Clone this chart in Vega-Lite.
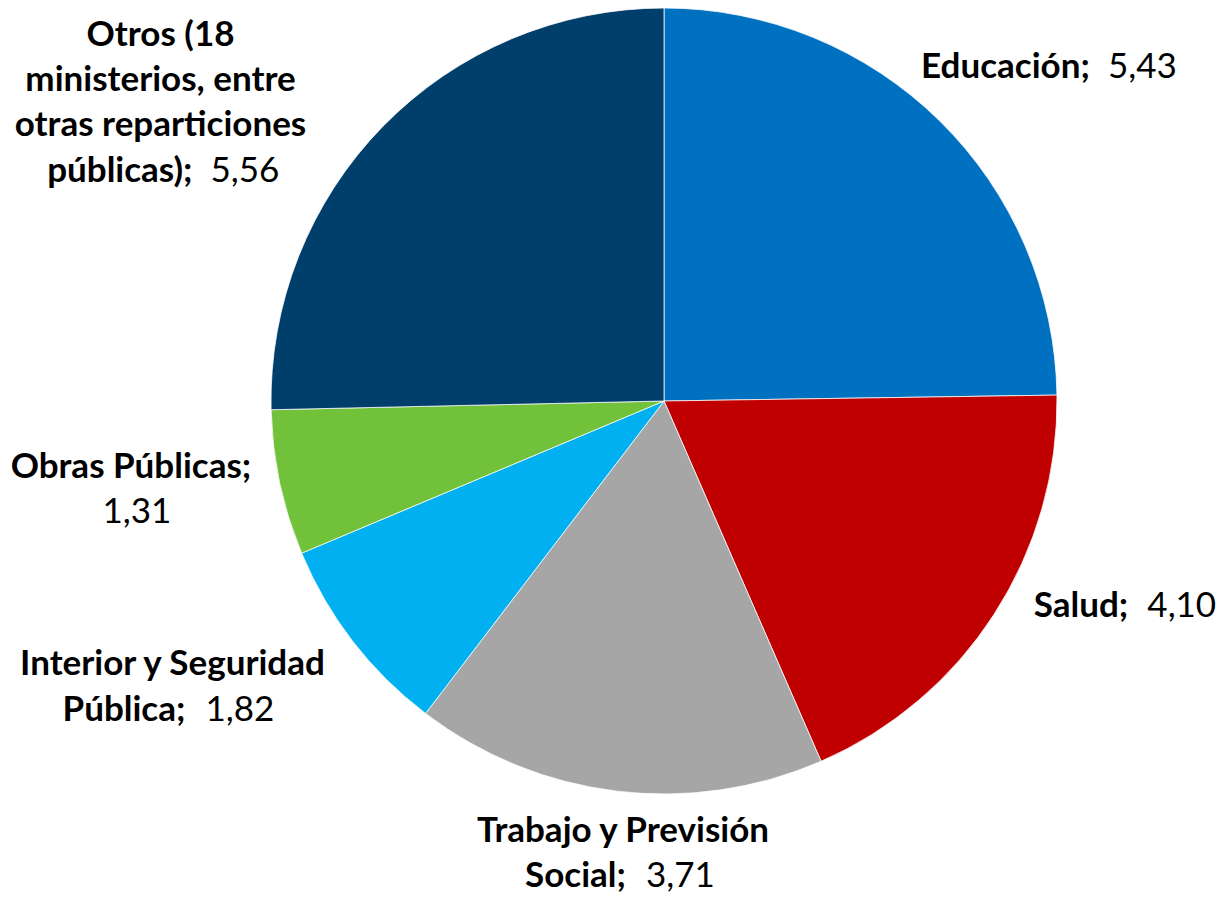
{
  "$schema": "https://vega.github.io/schema/vega-lite/v6.json",
  "autosize": {"type": "none"},
  "width": 786,
  "height": 786,
  "padding": {"left": 271, "top": 8, "right": 164, "bottom": 103},
  "background": "white",
  "config": {"view": {"stroke": null}, "text": {"font": "Lato", "fontSize": 35, "color": "#000000", "baseline": "alphabetic", "radius": 500, "lineHeight": 45}},
  "data": {"values": [
    {"cat": "Educación", "value": 5.43, "orden": 1, "t1": "", "tb": "Educación;"},
    {"cat": "Salud", "value": 4.10, "orden": 2, "t1": "", "tb": "Salud;"},
    {"cat": "Trabajo y Previsión Social", "value": 3.71, "orden": 3, "t1": "Trabajo y Previsión", "tb": "Social;"},
    {"cat": "Interior y Seguridad Pública", "value": 1.82, "orden": 4, "t1": "Interior y Seguridad", "tb": "Pública;"},
    {"cat": "Obras Públicas", "value": 1.31, "orden": 5, "t1": "Obras Públicas;", "tb": ""},
    {"cat": "Otros", "value": 5.56, "orden": 6, "t1": ["Otros (18", "ministerios, entre", "otras reparticiones"], "tb": "públicas);"}
  ]},
  "transform": [
    {"calculate": "replace(format(datum.value, '.2f'), '.', ',')", "as": "valtxt"}
  ],
  "encoding": {
    "theta": {"field": "value", "type": "quantitative", "stack": true},
    "order": {"field": "orden", "type": "quantitative"}
  },
  "layer": [
    {
      "mark": {"type": "arc", "stroke": "#ffffff", "strokeWidth": 0.75},
      "encoding": {
        "color": {
          "field": "cat", "type": "nominal", "legend": null,
          "scale": {
            "domain": ["Educación", "Salud", "Trabajo y Previsión Social", "Interior y Seguridad Pública", "Obras Públicas", "Otros"],
            "range": ["#0070C0", "#C00000", "#A6A6A6", "#00B0F0", "#71C23A", "#003E6B"]
          }
        }
      }
    },
    {"mark": {"type": "text", "fontWeight": "bold", "align": "right", "dx": 75, "dy": 33},
     "encoding": {"text": {"condition": {"test": "datum.cat === 'Educación'", "field": "tb"}, "value": ""}}},
    {"mark": {"type": "text", "align": "left", "dx": 93, "dy": 33},
     "encoding": {"text": {"condition": {"test": "datum.cat === 'Educación'", "field": "valtxt"}, "value": ""}}},
    {"mark": {"type": "text", "fontWeight": "bold", "align": "right", "dx": 44, "dy": -55},
     "encoding": {"text": {"condition": {"test": "datum.cat === 'Salud'", "field": "tb"}, "value": ""}}},
    {"mark": {"type": "text", "align": "left", "dx": 63, "dy": -55},
     "encoding": {"text": {"condition": {"test": "datum.cat === 'Salud'", "field": "valtxt"}, "value": ""}}},
    {"mark": {"type": "text", "fontWeight": "bold", "align": "center", "dx": 19, "dy": -55},
     "encoding": {"text": {"condition": {"test": "datum.cat === 'Trabajo y Previsión Social'", "field": "t1"}, "value": ""}}},
    {"mark": {"type": "text", "fontWeight": "bold", "align": "right", "dx": 22, "dy": -10},
     "encoding": {"text": {"condition": {"test": "datum.cat === 'Trabajo y Previsión Social'", "field": "tb"}, "value": ""}}},
    {"mark": {"type": "text", "align": "left", "dx": 42, "dy": -10},
     "encoding": {"text": {"condition": {"test": "datum.cat === 'Trabajo y Previsión Social'", "field": "valtxt"}, "value": ""}}},
    {"mark": {"type": "text", "fontWeight": "bold", "align": "center", "dx": -96, "dy": -32},
     "encoding": {"text": {"condition": {"test": "datum.cat === 'Interior y Seguridad Pública'", "field": "t1"}, "value": ""}}},
    {"mark": {"type": "text", "fontWeight": "bold", "align": "right", "dx": -83, "dy": 14},
     "encoding": {"text": {"condition": {"test": "datum.cat === 'Interior y Seguridad Pública'", "field": "tb"}, "value": ""}}},
    {"mark": {"type": "text", "align": "left", "dx": -63, "dy": 14},
     "encoding": {"text": {"condition": {"test": "datum.cat === 'Interior y Seguridad Pública'", "field": "valtxt"}, "value": ""}}},
    {"mark": {"type": "text", "fontWeight": "bold", "align": "center", "dx": -44, "dy": -27},
     "encoding": {"text": {"condition": {"test": "datum.cat === 'Obras Públicas'", "field": "t1"}, "value": ""}}},
    {"mark": {"type": "text", "align": "center", "dx": -38, "dy": 18},
     "encoding": {"text": {"condition": {"test": "datum.cat === 'Obras Públicas'", "field": "valtxt"}, "value": ""}}},
    {"mark": {"type": "text", "fontWeight": "bold", "align": "center", "dx": -146, "dy": -5},
     "encoding": {"text": {"condition": {"test": "datum.cat === 'Otros'", "field": "t1"}, "value": ""}}},
    {"mark": {"type": "text", "fontWeight": "bold", "align": "right", "dx": -114, "dy": 131},
     "encoding": {"text": {"condition": {"test": "datum.cat === 'Otros'", "field": "tb"}, "value": ""}}},
    {"mark": {"type": "text", "align": "left", "dx": -96, "dy": 131},
     "encoding": {"text": {"condition": {"test": "datum.cat === 'Otros'", "field": "valtxt"}, "value": ""}}}
  ]
}
